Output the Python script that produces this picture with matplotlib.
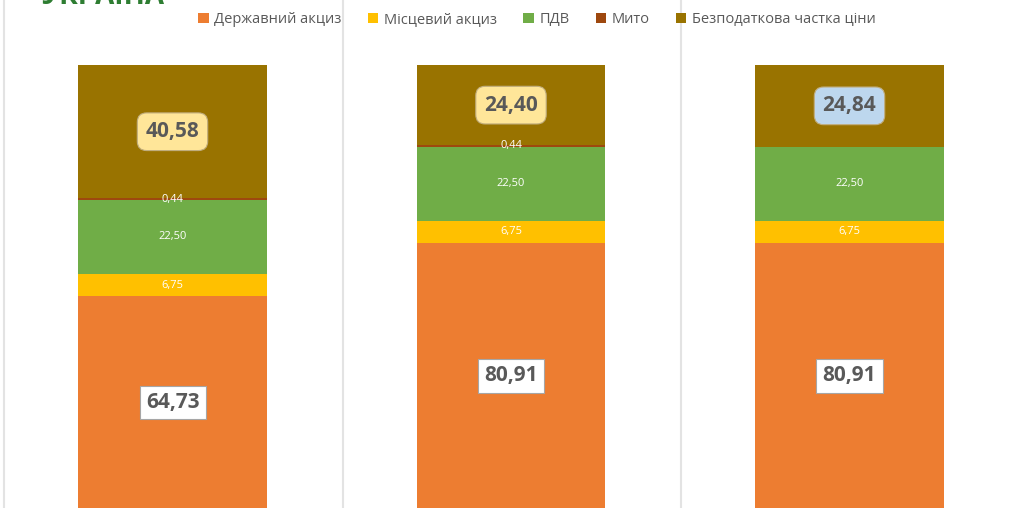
import numpy as np
import matplotlib
matplotlib.use("Agg")
import matplotlib.pyplot as plt
from matplotlib.patches import Patch

plt.rcParams['font.family'] = ['Open Sans', 'DejaVu Sans']

# DATA
bars = [0, 1, 2]
series_names = ["Державний акциз", "Місцевий акциз", "ПДВ", "Мито", "Безподаткова частка ціни"]
state_excise = [64.73, 80.91, 80.91]
local_excise = [6.75, 6.75, 6.75]
vat = [22.50, 22.50, 22.50]
duty = [0.44, 0.44, 0.0]
untaxed = [40.58, 24.40, 24.84]

colors = ["#ed7d31", "#ffc000", "#70ad47", "#9e480e", "#997300"]
# label boxes for the two big segments
bottom_box = "white"
top_box = ["#ffe699", "#ffe699", "#bdd7ee"]


def fmt(v):
    return "{:.2f}".format(v).replace(".", ",")


def main():
    fig = plt.figure(figsize=(10.24, 5.08), dpi=100)
    ax = fig.add_axes([0, -1 / 508, 1, 444 / 508])

    series = [state_excise, local_excise, vat, duty, untaxed]
    bottom = np.zeros(len(bars))
    width = 0.558
    for k, vals in enumerate(series):
        vals = np.array(vals)
        ax.bar(bars, vals, width, bottom=bottom, color=colors[k], linewidth=0)
        for i, v in enumerate(vals):
            if v <= 0:
                continue
            y = bottom[i] + v / 2
            if k == 0:
                ax.text(bars[i], y, fmt(v), ha="center", va="center", fontsize=15,
                        fontweight="bold", color="#595959",
                        bbox=dict(boxstyle="square,pad=0.3", fc=bottom_box, ec="#a6a6a6", lw=0.8))
            elif k == 4:
                ax.text(bars[i], y, fmt(v), ha="center", va="center", fontsize=15,
                        fontweight="bold", color="#595959",
                        bbox=dict(boxstyle="round,pad=0.4,rounding_size=0.45", fc=top_box[i],
                                  ec="#c0ad7e", lw=0.8))
            else:
                ax.text(bars[i], y, fmt(v), ha="center", va="center", fontsize=8,
                        color="white")
        bottom += vals

    ax.set_xlim(-0.5096, 2.5155)
    ax.set_ylim(0, 135)
    ax.axis("off")

    # panel separators
    for x in [-0.5, 0.5, 1.5]:
        fig.add_artist(plt.Line2D([(x + 0.5096) / 3.0251 + 0.001] * 2, [0, 1], color="#e3e3e3", lw=1.5))

    handles = [Patch(facecolor=c, edgecolor="none") for c in colors]
    fig.legend(handles, series_names, loc="center", bbox_to_anchor=(0.5245, 0.962), ncol=5,
               frameon=False, fontsize=10.5, handlelength=0.7, handleheight=0.7,
               handletextpad=0.4, columnspacing=1.8, labelcolor="#595959")

    # logo at the top left, mostly cut off by the edge of the screenshot
    fig.text(0.04, 1 - 4 / 508, "УКРАЇНА", fontsize=20, fontweight="bold",
             color="#2e7d32", va="baseline", ha="left")

    fig.savefig("out.png", dpi=100, facecolor="white")


if __name__ == "__main__":
    main()
